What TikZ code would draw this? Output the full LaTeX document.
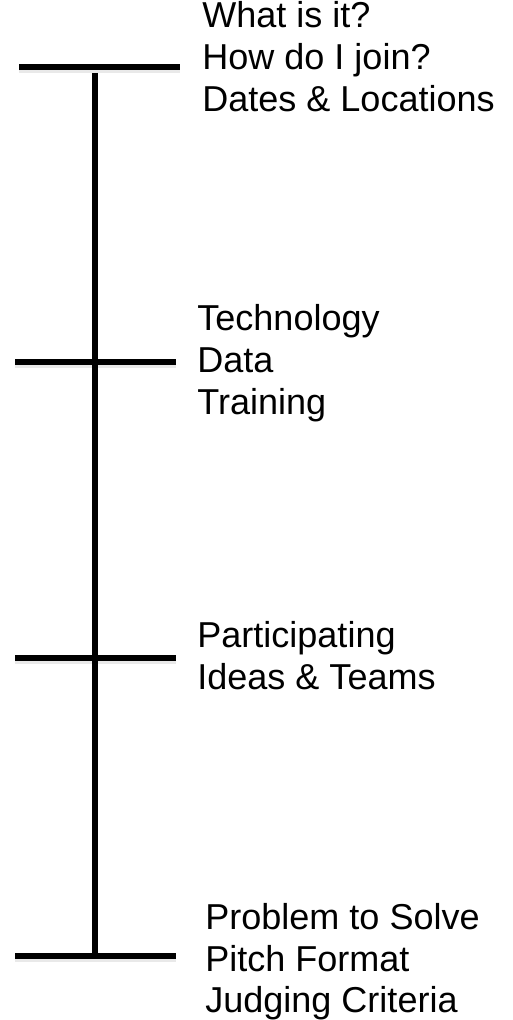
\documentclass[tikz,border=0pt]{standalone}
\usepackage{fontspec}
\setmainfont{Liberation Sans}

\tikzset{
	bar/.style={line width=0.13cm, black},
	barshadow/.style={line width=0.15cm, black!25, opacity=0.35},
	topic/.style={anchor=base west, align=left, inner sep=0pt,
		font=\fontsize{20.5pt}{23.9pt}\selectfont},
}

\begin{document}
\begin{tikzpicture}
		\useasboundingbox (0, 0) rectangle (10.26, 20.4);
		% Tick ends:
		\coordinate (t1l) at (0.38, 19.06);
		\coordinate (t1r) at (3.6, 19.06);
		\coordinate (t2l) at (0.3, 13.16);
		\coordinate (t2r) at (3.52, 13.16);
		\coordinate (t3l) at (0.3, 7.24);
		\coordinate (t3r) at (3.52, 7.24);
		\coordinate (t4l) at (0.3, 1.28);
		\coordinate (t4r) at (3.52, 1.28);
		\coordinate (spinetop) at (1.9, 18.94);
		\coordinate (spinebot) at (1.9, 1.28);
		% Shadows, then bars:
		\foreach \n in {1,...,4}
			\draw[barshadow] ([yshift=-0.04cm]t\n l) -- ([yshift=-0.04cm]t\n r);
		\draw[bar] (spinetop) -- (spinebot);
		\foreach \n in {1,...,4}
			\draw[bar] (t\n l) -- (t\n r);
		% Topics (base is the last line):
		\node[topic] (intro) at (4.04, 18.16) {What is it?\\How do I join?\\Dates \& Locations};
		\node[topic] (tools) at (3.94, 12.1) {Technology\\Data\\Training};
		\node[topic] (teams) at (3.94, 6.6) {Participating\\Ideas \& Teams};
		\node[topic] (pitch) at (4.1, 0.14) {Problem to Solve\\Pitch Format\\Judging Criteria};
	\end{tikzpicture}
\end{document}
